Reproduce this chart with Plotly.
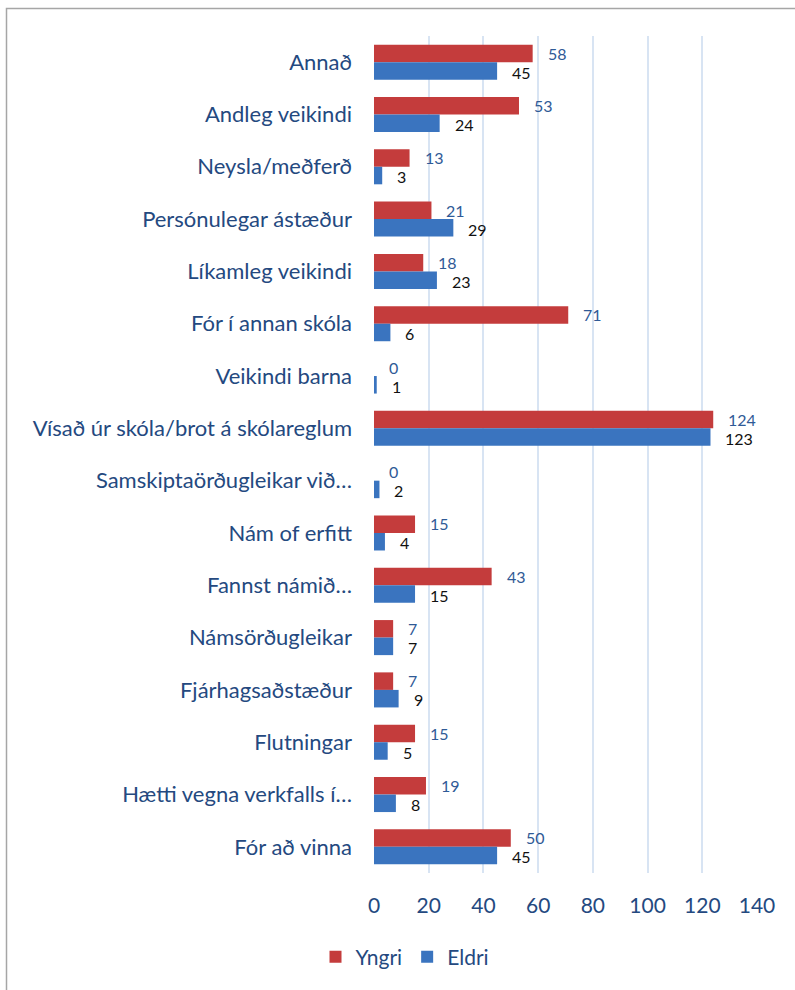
import plotly.graph_objects as go

categories = [
    "Annað", "Andleg veikindi", "Neysla/meðferð", "Persónulegar ástæður",
    "Líkamleg veikindi", "Fór í annan skóla", "Veikindi barna",
    "Vísað úr skóla/brot á skólareglum", "Samskiptaörðugleikar við…",
    "Nám of erfitt", "Fannst námið…", "Námsörðugleikar", "Fjárhagsaðstæður",
    "Flutningar", "Hætti vegna verkfalls í…", "Fór að vinna",
]
yngri = [58, 53, 13, 21, 18, 71, 0, 124, 0, 15, 43, 7, 7, 15, 19, 50]
eldri = [45, 24, 3, 29, 23, 6, 1, 123, 2, 4, 15, 7, 9, 5, 8, 45]
x_ticks = [0, 20, 40, 60, 80, 100, 120, 140]

FONT = "Lato"
TXT = "#24497F"

fig = go.Figure()
fig.add_trace(go.Bar(y=categories, x=yngri, name="Yngri", orientation="h",
                     marker=dict(color="#C43C3C", line=dict(width=0))))
fig.add_trace(go.Bar(y=categories, x=eldri, name="Eldri", orientation="h",
                     marker=dict(color="#3A74BF", line=dict(width=0))))

ann = []
for c, v in zip(categories, yngri):
    ann.append(dict(x=v, y=c, xref="x", yref="y", text=str(v), showarrow=False,
                    xanchor="left", yanchor="middle", xshift=14, yshift=9,
                    borderpad=0,
                    font=dict(family=FONT, size=16, color="#2F5A96")))
for c, v in zip(categories, eldri):
    ann.append(dict(x=v, y=c, xref="x", yref="y", text=str(v), showarrow=False,
                    xanchor="left", yanchor="middle", xshift=14, yshift=-10,
                    borderpad=0,
                    font=dict(family=FONT, size=16, color="#111111")))

L, R, T, B = 374, 38, 36, 117
W, H = 795, 990
pw, ph = W - L - R, H - T - B

def px_x(p):
    return (p - L) / pw

def px_y(p):
    return (H - B - p) / ph

fig.update_layout(
    width=W, height=H,
    margin=dict(l=L, r=R, t=T, b=B),
    paper_bgcolor="white", plot_bgcolor="white",
    barmode="group", bargap=0.33, bargroupgap=0,
    font=dict(family=FONT, color=TXT),
    annotations=ann,
    showlegend=True,
    legend=dict(orientation="h", x=px_x(405), y=px_y(957),
                xanchor="center", yanchor="middle",
                font=dict(family=FONT, size=21, color=TXT),
                itemwidth=30, traceorder="normal"),
    xaxis=dict(range=[0, 140], tickvals=x_ticks, showgrid=True,
               gridcolor="#D8E4F3", gridwidth=2, zeroline=False,
               showline=False, ticks="", ticklabelstandoff=18,
               tickfont=dict(family=FONT, size=21, color=TXT)),
    yaxis=dict(autorange="reversed", showgrid=False, zeroline=False,
               showline=False, ticks="", ticklabelstandoff=21,
               tickfont=dict(family=FONT, size=22, color=TXT)),
    shapes=[dict(type="rect", xref="paper", yref="paper",
                 x0=px_x(6.5), x1=px_x(820), y0=px_y(1020), y1=px_y(8.5),
                 line=dict(color="#A6A6A6", width=1.5), layer="below")],
)

fig.write_html("out.html", config={"displayModeBar": False},
               post_script="document.body.style.margin='0';document.body.style.padding='0';")
